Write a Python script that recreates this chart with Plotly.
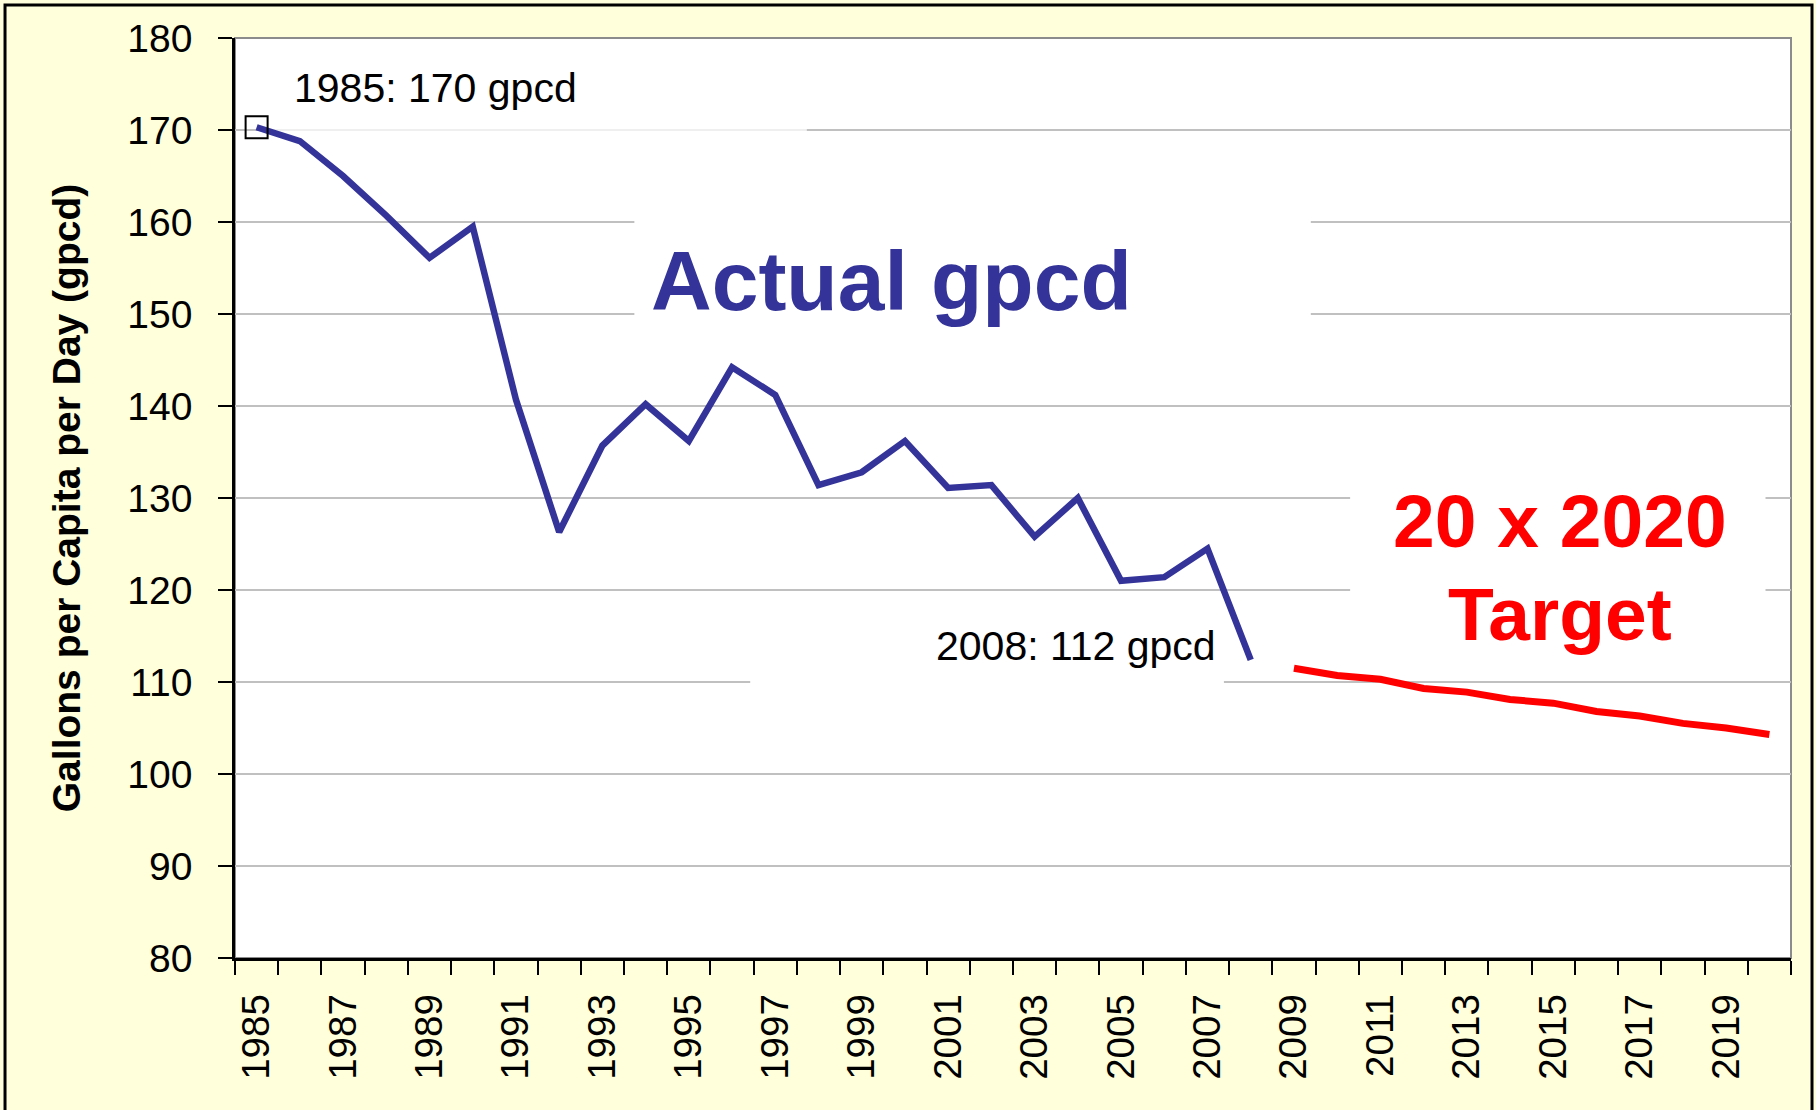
import plotly.graph_objects as go

actual_years = list(range(1985, 2009))
actual_gpcd = [170.3, 168.8, 165.0, 160.7, 156.1, 159.5, 140.7, 126.3, 135.7, 140.2,
               136.2, 144.2, 141.2, 131.4, 132.8, 136.2, 131.1, 131.4, 125.8, 130.0,
               121.0, 121.4, 124.5, 112.4]
target_years = list(range(2009, 2021))
target_gpcd = [111.5, 110.7, 110.3, 109.3, 108.9, 108.1, 107.7, 106.8, 106.3, 105.5, 105.0, 104.3]
label_years = list(range(1985, 2020, 2))
y_ticks = list(range(80, 181, 10))

FONT = "Liberation Sans, Arial, sans-serif"
BLUE = "#333399"
RED = "#FF0000"

fig = go.Figure()
fig.add_trace(go.Scatter(x=actual_years, y=actual_gpcd, mode="lines",
                         line=dict(color=BLUE, width=6.5), hoverinfo="skip"))
fig.add_trace(go.Scatter(x=target_years, y=target_gpcd, mode="lines",
                         line=dict(color=RED, width=7), hoverinfo="skip"))
fig.add_trace(go.Scatter(x=actual_years[:1], y=actual_gpcd[:1], mode="markers",
                         marker=dict(symbol="square-open", size=22,
                                     line=dict(color="black", width=2), color="black"),
                         hoverinfo="skip"))

# white boxes hiding gridlines behind labels
boxes = [
    (1985.22, 1997.73, 169.6, 177.5, 0.75),
    (1993.74, 2009.39, 145.0, 163.0, 1.0),
    (1996.42, 2007.38, 108.5, 117.0, 1.0),
    (2010.3, 2019.91, 112.5, 133.5, 1.0),
]
for x0, x1, y0, y1, op in boxes:
    fig.add_shape(type="rect", xref="x", yref="y", x0=x0, x1=x1, y0=y0, y1=y1,
                  fillcolor="white", opacity=op, line=dict(width=0), layer="between")

# plot area gray frame
fig.add_shape(type="rect", xref="paper", yref="paper", x0=0, x1=1, y0=0, y1=1,
              line=dict(color="#8c8c8c", width=2), layer="below")
# outer strip colour and black border (open at the bottom)
fig.add_shape(type="rect", xref="paper", yref="paper", x0=-0.1478, x1=1.0135,
              y0=-0.2, y1=1.0359, line=dict(color="black", width=3), layer="above")

fig.add_annotation(x=1985.81, y=174.6, text="1985: 170 gpcd", showarrow=False,
                   xanchor="left", yanchor="middle", font=dict(family=FONT, size=41, color="black"))
fig.add_annotation(x=2007.24, y=113.9, text="2008: 112 gpcd", showarrow=False,
                   xanchor="right", yanchor="middle", font=dict(family=FONT, size=41, color="black"))
fig.add_annotation(x=1999.69, y=153.6, text="<b>Actual gpcd</b>", showarrow=False,
                   xanchor="center", yanchor="middle", font=dict(family=FONT, size=84, color=BLUE))
fig.add_annotation(x=2015.15, y=127.5, text="<b>20 x 2020</b>", showarrow=False,
                   xanchor="center", yanchor="middle", font=dict(family=FONT, size=75, color=RED))
fig.add_annotation(x=2015.15, y=117.4, text="<b>Target</b>", showarrow=False,
                   xanchor="center", yanchor="middle", font=dict(family=FONT, size=75, color=RED))

fig.update_layout(
    width=1816, height=1110,
    margin=dict(l=235, r=25, t=38, b=152),
    paper_bgcolor="#FFFFDC", plot_bgcolor="white",
    showlegend=False,
    font=dict(family=FONT, color="black"),
)
fig.update_xaxes(
    range=[1984.5, 2020.5], tickmode="array", tickvals=label_years,
    ticktext=[str(y) for y in label_years], tickangle=-90,
    ticks="outside", ticklen=14, tickcolor="rgba(0,0,0,0)", ticklabelstandoff=4,
    tickfont=dict(family=FONT, size=38.5, color="black"),
    showgrid=False, zeroline=False, showline=True, linecolor="black", linewidth=2.5,
    minor=dict(tickmode="linear", tick0=1984.5, dtick=1, ticks="outside", ticklen=14,
               tickcolor="black", tickwidth=2, showgrid=False),
)
fig.update_yaxes(
    range=[80, 180], tickmode="array", tickvals=y_ticks,
    ticks="outside", ticklen=14, tickwidth=2, tickcolor="black", ticklabelstandoff=18,
    tickfont=dict(family=FONT, size=39, color="black"),
    showgrid=True, gridcolor="#C0C0C0", gridwidth=2, zeroline=False,
    showline=True, linecolor="black", linewidth=2.5,
    title=dict(text="<b>Gallons per Capita per Day (gpcd)</b>", standoff=35,
               font=dict(family=FONT, size=39, color="black")),
)

fig.write_html("out.html", config={"displayModeBar": False},
               post_script="document.body.style.margin='0';")
